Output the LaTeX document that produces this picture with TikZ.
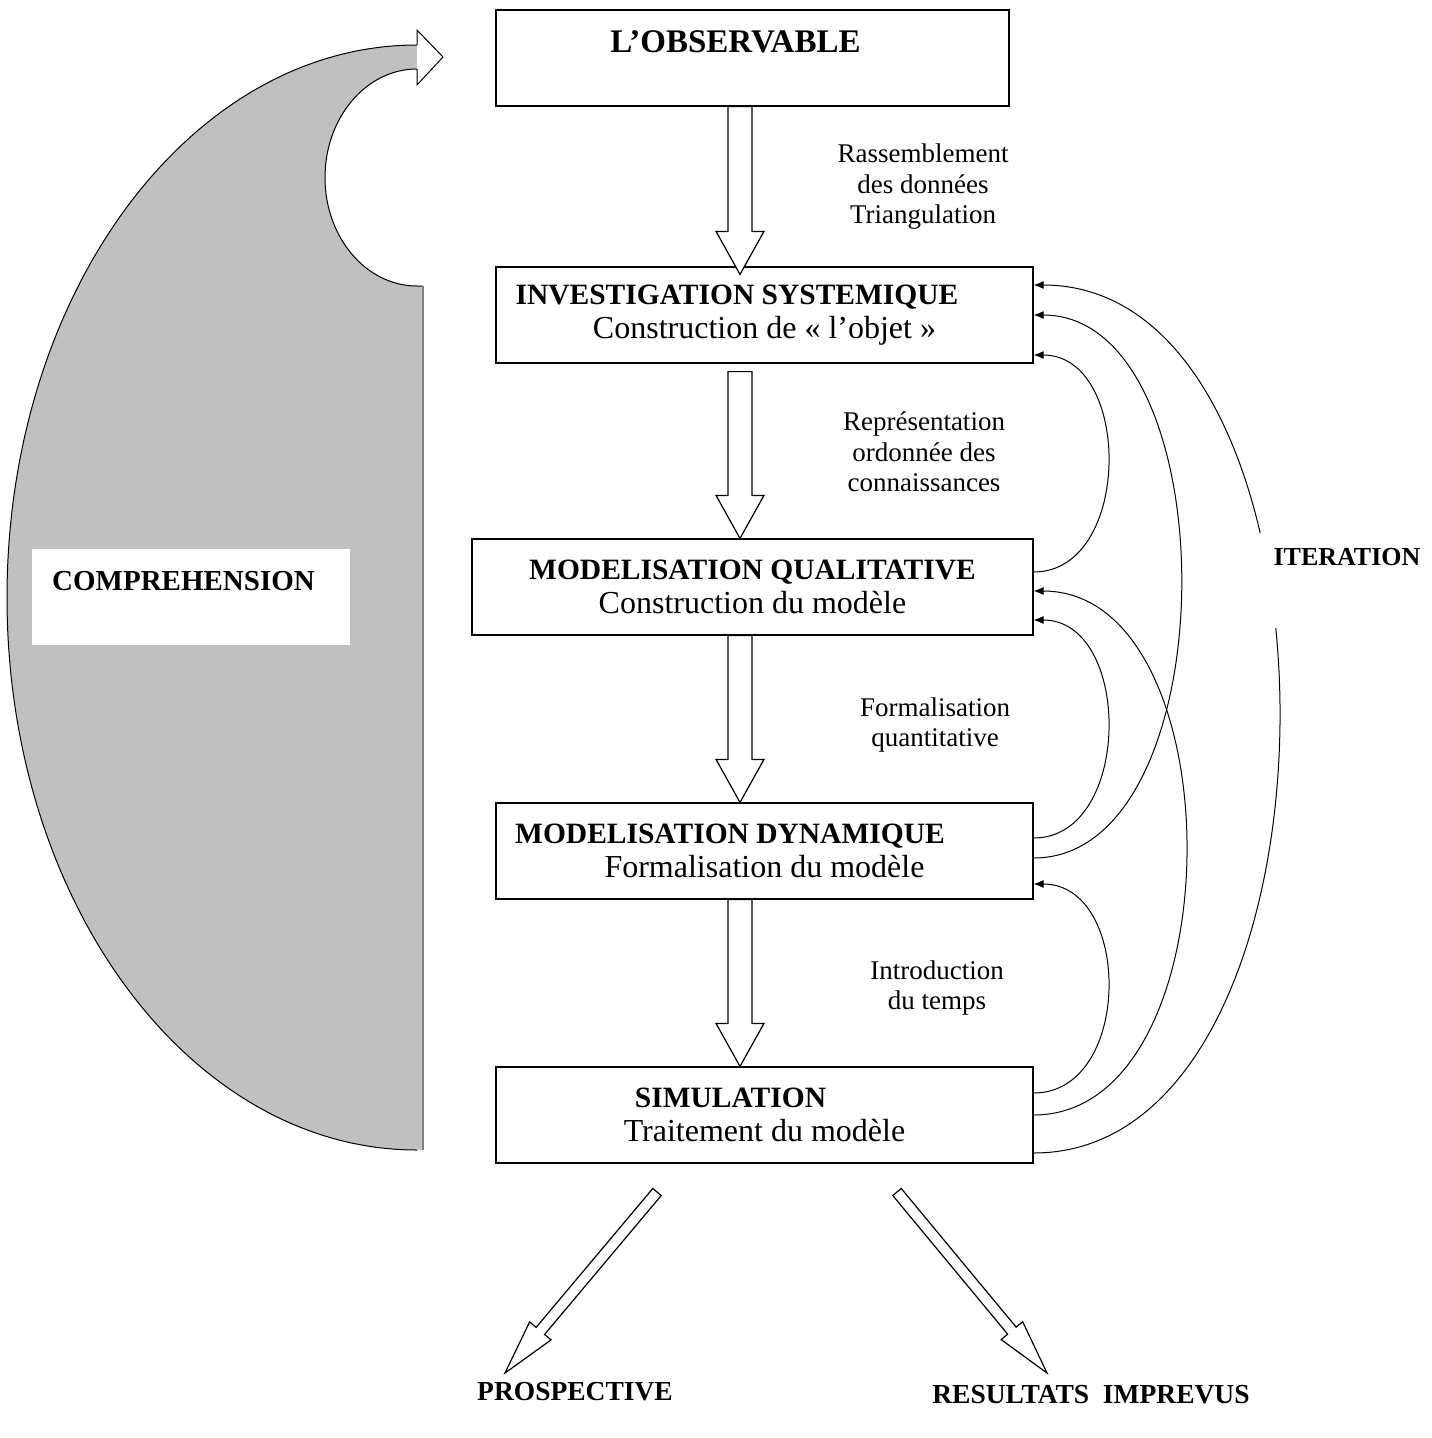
\documentclass[tikz,border=0pt]{standalone}
\usepackage{fontspec}
\setmainfont{Liberation Serif}
\usetikzlibrary{positioning,arrows.meta,calc}

\definecolor{gris}{RGB}{192,192,192}

\tikzset{
  etape/.style={draw, line width=1.2pt, minimum height=96pt, align=center,
    font=\fontsize{32}{34}\selectfont},
  titre/.style={font=\fontsize{33}{34}\selectfont\bfseries},
  legende/.style={align=center, font=\fontsize{27}{30.5}\selectfont},
  grand/.style={font=\fontsize{27.5}{30}\selectfont\bfseries},
  retour/.style={line width=1pt, -{Latex[length=10pt,width=8pt]}},
  creuse/.style={draw, fill=white, line width=1.2pt, line join=miter},
}

% fleche creuse : depart, pointe, demi-corps, demi-tete, longueur tete
\newcommand{\fleche}[5]{%
  \path ($(#2)!#5!(#1)$) coordinate (fb);
  \draw[creuse] ($(#1)!#3!90:(#2)$) -- ($(fb)!#3!90:(#2)$) -- ($(fb)!#4!90:(#2)$) -- (#2)
    -- ($(fb)!#4!-90:(#2)$) -- ($(fb)!#3!-90:(#2)$) -- ($(#1)!#3!-90:(#2)$) -- cycle;
}
\newcommand{\gras}{\bfseries\fontsize{29.5}{34}\selectfont}

\begin{document}
\begin{tikzpicture}[x=1pt, y=1pt]
\useasboundingbox (0,0) rectangle (1432,-1438);

% grande fleche grise
\fill[gris] (417,-45) arc[start angle=90, end angle=270, x radius=410, y radius=552.5]
  -- (423,-1150) -- (423,-286) -- (417,-286)
  arc[start angle=-90, end angle=-270, x radius=92, y radius=108.5] -- cycle;
\draw[line width=1pt] (417,-45) arc[start angle=90, end angle=270, x radius=410, y radius=552.5];
\draw[line width=1pt] (423,-286) -- (417,-286)
  arc[start angle=-90, end angle=-270, x radius=92, y radius=108.5];
\draw[gray, line width=1.5pt] (423,-286) -- (423,-1150);
\draw[creuse, line width=1pt] (417,-69) -- (417,-85) -- (443,-57) -- (417,-30) -- (417,-45);

\node[fill=white, anchor=north west, minimum width=318pt, minimum height=96pt,
  text width=278pt, inner xsep=20pt, align=left, text height=20pt, text depth=34pt,
  font=\fontsize{29}{30}\selectfont\bfseries] (comp) at (32,-549) {COMPREHENSION};

% les etapes
\node[etape, titre, minimum width=513pt, text height=22pt, text depth=34pt] (obs)
  at (752.5,-58) {L’OBSERVABLE\hspace*{34pt}};
\node[etape, minimum width=537pt] (inv) at (764.5,-315)
  {{\gras INVESTIGATION SYSTEMIQUE}\hspace*{55pt}\\
   Construction de « l’objet »};
\node[etape, minimum width=561pt] (qual) at (752.5,-587)
  {{\gras MODELISATION QUALITATIVE}\\
   Construction du modèle};
\node[etape, minimum width=537pt] (dyn) at (764.5,-851)
  {{\gras MODELISATION DYNAMIQUE}\hspace*{69pt}\\
   Formalisation du modèle};
\node[etape, minimum width=537pt] (sim) at (764.5,-1115)
  {{\gras SIMULATION}\hspace*{68pt}\\
   Traitement du modèle};

% fleches verticales
\coordinate (axe) at (740,0);
\foreach \a/\b/\s/\e [count=\i] in {obs/inv/0/-8, inv/qual/-8/0, qual/dyn/0/0, dyn/sim/0/0}{
  \coordinate (d\i) at ($(axe |- \a.south)+(0,\s)$);
  \coordinate (f\i) at ($(axe |- \b.north)+(0,\e)$);
  \fleche{d\i}{f\i}{12pt}{24pt}{43pt}
}

\node[legende] (l1) at (923,-187) {Rassemblement\\des données\\Triangulation};
\node[legende] (l2) at (924,-452) {Représentation\\ordonnée des\\connaissances};
\node[legende] (l3) at (935,-725) {Formalisation\\quantitative};
\node[legende] (l4) at (937,-988) {Introduction\\du temps};

% retours
\draw[retour] ([yshift=15pt]qual.east) .. controls +(99,0) and +(99,0) .. ([yshift=-40pt]inv.east);
\draw[retour] ([yshift=13pt]dyn.east) .. controls +(99,0) and +(99,0) .. ([yshift=-33pt]qual.east);
\draw[retour] ([yshift=22pt]sim.east) .. controls +(99,0) and +(99,0) .. ([yshift=-33pt]dyn.east);
\draw[retour] ([yshift=-7pt]dyn.east) .. controls +(196,0) and +(196,0) .. (inv.east);
\draw[retour] (sim.east) .. controls +(203,0) and +(203,0) .. ([yshift=-4pt]qual.east);
\begin{scope}
\clip (1000,0) rectangle (1432,-533) (1000,-628) rectangle (1432,-1438)
  (1000,-533) rectangle (1240,-628);
\draw[retour] ([yshift=-38pt]sim.east) .. controls +(327,0) and +(327,0) .. ([yshift=30pt]inv.east);
\end{scope}

\node[font=\fontsize{26}{30}\selectfont\bfseries] (iter) at (1347,-557) {ITERATION};

% sorties
\node[grand] (prosp) at (575,-1392) {PROSPECTIVE};
\node[grand] (imprev) at (1091,-1395) {RESULTATS\ \ IMPREVUS};
\coordinate (pd) at (657,-1192);
\coordinate (pf) at (505,-1373);
\coordinate (rd) at (897,-1192);
\coordinate (rf) at (1047,-1373);
\fleche{pd}{pf}{5.5pt}{14pt}{55pt}
\fleche{rd}{rf}{5.5pt}{14pt}{55pt}

\end{tikzpicture}
\end{document}
